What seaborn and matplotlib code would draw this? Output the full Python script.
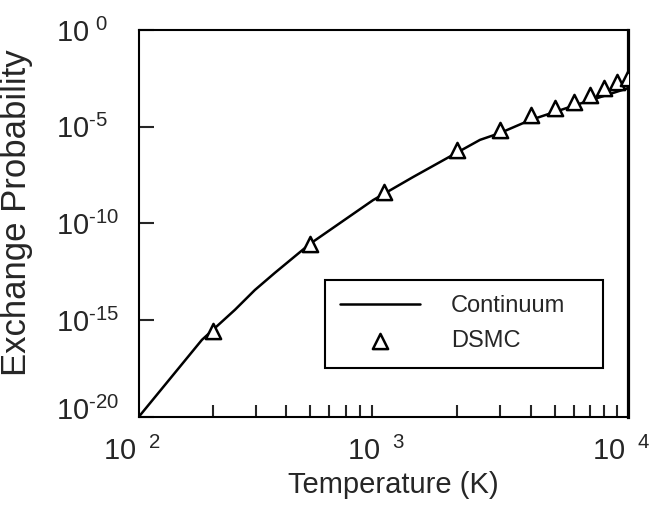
import matplotlib
matplotlib.use("Agg")
import matplotlib.pyplot as plt
import matplotlib.transforms as mtransforms
import seaborn as sns
from matplotlib.ticker import FixedLocator, FixedFormatter, NullLocator, NullFormatter

# Continuum curve
cont_T = [100, 181, 247, 298, 360, 500, 906, 1320, 1820, 2480, 3000, 3970, 6070, 10000]
cont_P = [1.0e-20, 9.5e-17, 3.4e-15, 3.6e-14, 2.8e-13, 8.7e-12, 1.6e-9,
          2.5e-8, 2.4e-7, 2.1e-6, 4.8e-6, 2.2e-5, 1.3e-4, 1.0e-3]

# DSMC points
dsmc_T = [200, 500, 1000, 2000, 3000, 4000, 5000, 6000, 7000, 8000, 9000, 10000]
dsmc_P = [2.8e-16, 8.7e-12, 4.3e-9, 6.3e-7, 6.8e-6, 4.1e-5, 9.3e-5,
          1.9e-4, 4.4e-4, 1.0e-3, 2.0e-3, 3.3e-3]

x_ticks = [100, 1000, 10000]
x_ticklabels = [r"$\mathregular{10^{\enspace\,2}}$", r"$\mathregular{10^{\enspace\,3}}$",
                r"$\mathregular{10^{\enspace\,4}}$"]
x_minor = [200, 300, 400, 500, 600, 700, 800, 900,
           2000, 3000, 4000, 5000, 6000, 7000, 8000, 9000]
y_ticks = [1e-20, 1e-15, 1e-10, 1e-5, 1]
y_ticklabels = ["$\\mathregular{10^{\u201020}}$", "$\\mathregular{10^{\u201015}}$",
                "$\\mathregular{10^{\u201010}}$", "$\\mathregular{10^{\u20105}}$",
                "$\\mathregular{10^{\\,\\,0}}$"]

sns.set_style("ticks")
plt.rcParams["font.family"] = ["Liberation Sans", "DejaVu Sans"]
plt.rcParams["mathtext.fontset"] = "custom"
plt.rcParams["mathtext.rm"] = "Liberation Sans"

fig = plt.figure(figsize=(6.55, 5.19), dpi=100)
ax = fig.add_axes([0.212, 0.197, 0.747, 0.745])
ax.set_xscale("log")
ax.set_yscale("log")

sns.lineplot(x=cont_T, y=cont_P, ax=ax, color="black", linewidth=1.8,
             label="Continuum", sort=True)
sns.scatterplot(x=dsmc_T, y=dsmc_P, ax=ax, marker="^", s=120,
                facecolor="white", edgecolor="black", linewidth=1.8,
                label="DSMC", zorder=3)

ax.set_xlim(100, 10000)
ax.set_ylim(1e-20, 1)

ax.xaxis.set_major_locator(FixedLocator(x_ticks))
ax.xaxis.set_major_formatter(FixedFormatter(x_ticklabels))
ax.xaxis.set_minor_locator(FixedLocator(x_minor))
ax.xaxis.set_minor_formatter(NullFormatter())
ax.yaxis.set_major_locator(FixedLocator(y_ticks))
ax.yaxis.set_major_formatter(FixedFormatter(y_ticklabels))
ax.yaxis.set_minor_locator(NullLocator())

ax.tick_params(axis="x", which="major", length=0, pad=10, labelsize=21)
ax.tick_params(axis="x", which="minor", direction="in", length=8.6, width=1.5,
               bottom=True, top=False)
ax.tick_params(axis="y", which="major", direction="in", length=11, width=1.5,
               pad=60, labelsize=21, left=True, right=False)
ylbls = ax.get_yticklabels()
for lbl in ylbls:
    lbl.set_horizontalalignment("left")
ylbls[0].set_transform(ylbls[0].get_transform()
                       + mtransforms.ScaledTranslation(0, 0.08, fig.dpi_scale_trans))
x_shift = mtransforms.ScaledTranslation(-0.07, -0.06, fig.dpi_scale_trans)
for lbl in ax.get_xticklabels():
    lbl.set_transform(lbl.get_transform() + x_shift)

for side in ["left", "bottom", "top"]:
    ax.spines[side].set_linewidth(1.5)
    ax.spines[side].set_color("black")
ax.spines["right"].set_linewidth(2.3)
ax.spines["right"].set_color("black")

ax.set_xlabel("Temperature (K)", fontsize=21)
ax.set_ylabel("Exchange Probability", fontsize=25)
ax.xaxis.set_label_coords(0.521, -0.14)
ax.yaxis.set_label_coords(-0.217, 0.527)

leg = ax.legend(loc="upper left", bbox_to_anchor=(0.380, 0.129, 0.569, 0.225),
                mode="expand", fontsize=17,
                frameon=True, fancybox=False, framealpha=1, edgecolor="black",
                handlelength=3.4, handletextpad=1.3, borderpad=0.65,
                labelspacing=0.55, borderaxespad=0)
leg.get_frame().set_linewidth(1.5)

fig.savefig("out.png", dpi=100)
